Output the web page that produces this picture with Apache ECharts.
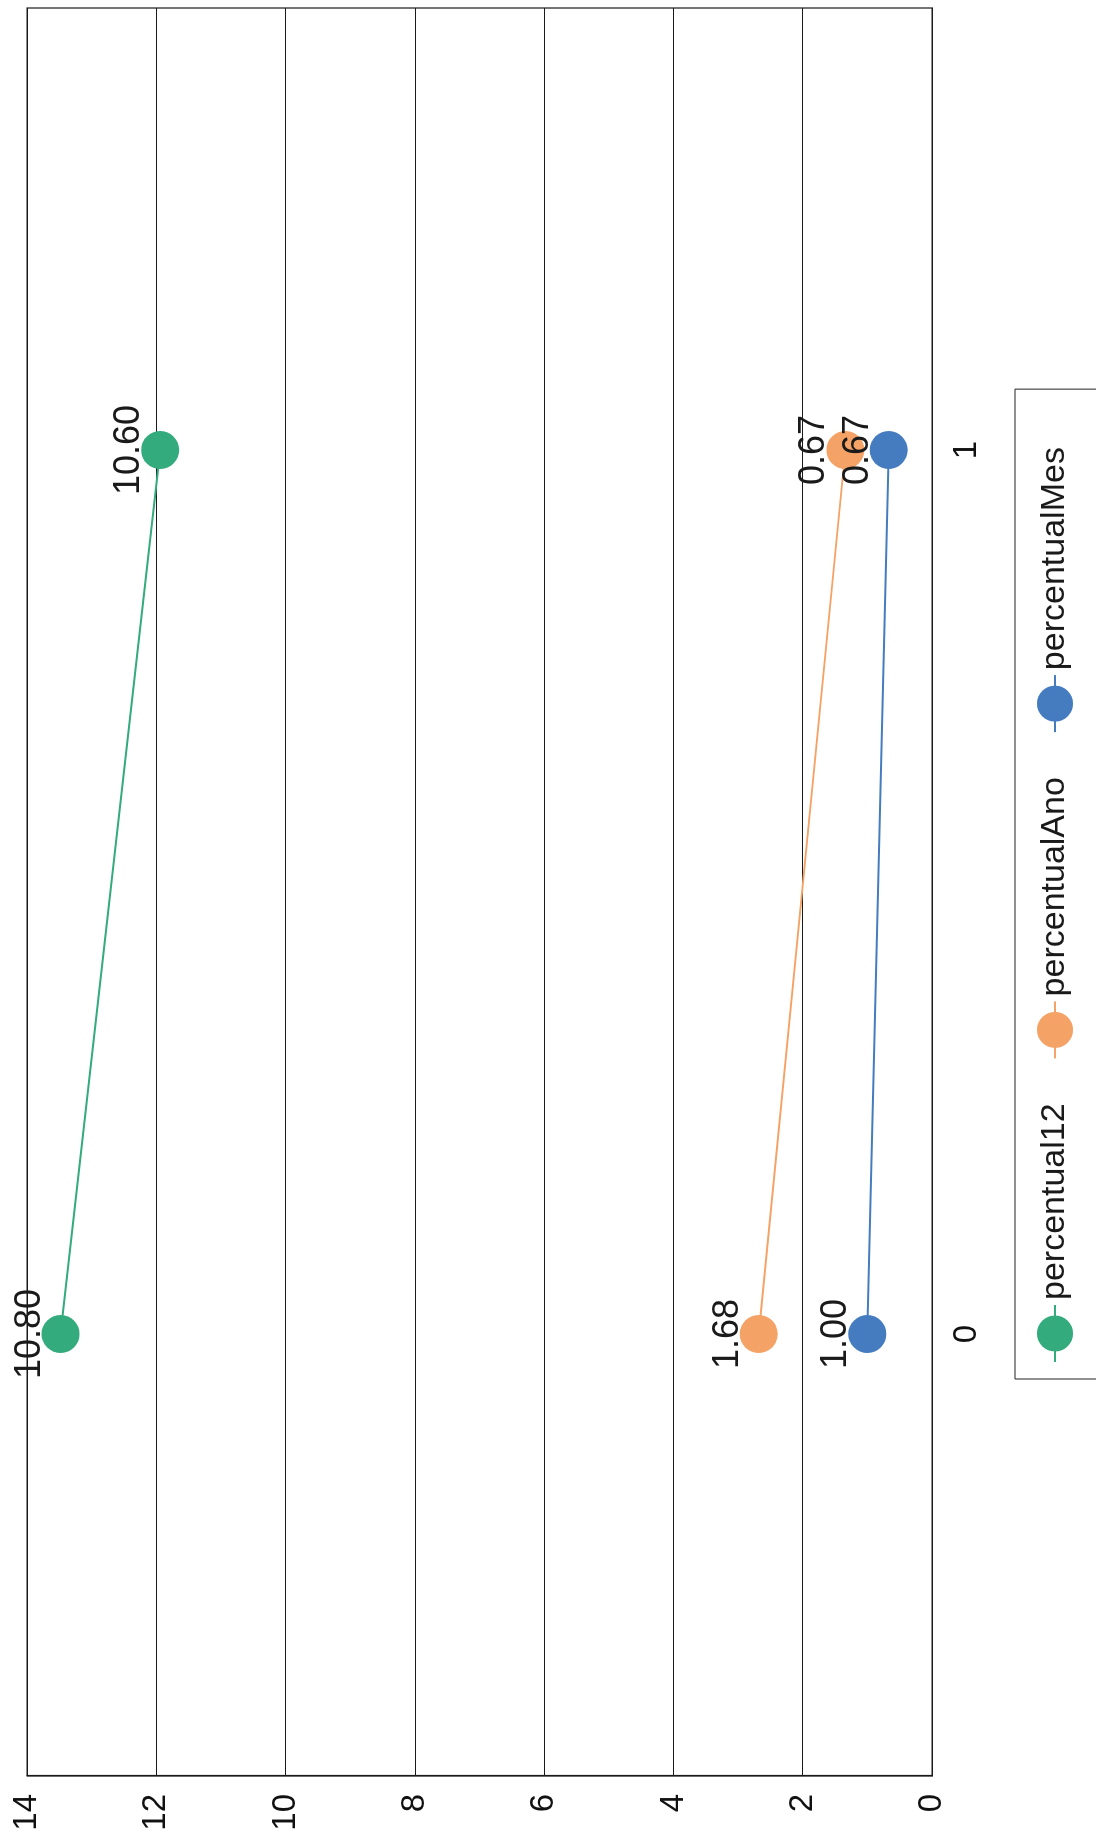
<!DOCTYPE html>
<html><head><meta charset="utf-8">
<script src="https://cdn.jsdelivr.net/npm/echarts@6/dist/echarts.min.js"></script>
<style>
html,body{margin:0;padding:0;background:#fff;overflow:hidden;width:1096px;height:1842px}
#chart{position:absolute;left:0;top:0;width:1842px;height:1096px;transform-origin:0 0;transform:translate(0,1842px) rotate(-90deg);}
</style></head><body><div id="chart"></div>
<script>
const categories = ['0', '1'];
const percentual12 = [10.80, 10.60];
const percentualAno = [1.68, 0.67];
const percentualMes = [1.00, 0.67];
const legendNames = ['percentual12', 'percentualAno', 'percentualMes'];
const valueMin = 0, valueMax = 14, valueInterval = 2;

const FONT = '"Liberation Sans", Arial, Helvetica, sans-serif';
const colors = { percentual12: '#33ab7c', percentualAno: '#f5a266', percentualMes: '#457cbf' };

function mk(name, data) {
  const c = colors[name];
  return {
    name, type: 'line', stack: 'total', data,
    symbol: 'circle', symbolSize: 38,
    itemStyle: { color: c },
    lineStyle: { color: c, width: 2 },
    label: {
      show: true, position: 'top', distance: -6,
      fontSize: 36, color: '#1a1a1a', fontFamily: FONT,
      formatter: p => Number(p.value).toFixed(2)
    }
  };
}

const chart = echarts.init(document.getElementById('chart'), null, { renderer: 'canvas' });
chart.setOption({
  animation: false,
  backgroundColor: '#fff',
  textStyle: { fontFamily: FONT },
  grid: { left: 66, right: 8, top: 27, bottom: 164, show: true, borderColor: '#1a1a1a', borderWidth: 1.2, outerBoundsMode: 'none' },
  legend: {
    data: legendNames, left: 463, top: 1015, orient: 'horizontal',
    itemWidth: 57, itemHeight: 45, itemGap: 44,
    padding: [22, 58, 34, 16],
    borderColor: '#222', borderWidth: 1,
    textStyle: { fontSize: 34, color: '#1a1a1a', fontFamily: FONT }
  },
  xAxis: {
    type: 'category', data: categories, boundaryGap: true,
    axisLine: { show: true, lineStyle: { color: '#1a1a1a', width: 1.2 } },
    axisTick: { show: false },
    axisLabel: { fontSize: 33, color: '#111', margin: 18, fontFamily: FONT },
    splitLine: { show: false }
  },
  yAxis: {
    type: 'value', min: valueMin, max: valueMax, interval: valueInterval,
    axisLine: { show: true, lineStyle: { color: '#1a1a1a', width: 1.2 } },
    axisTick: { show: false },
    axisLabel: { fontSize: 33, color: '#111', margin: 18, fontFamily: FONT },
    splitLine: { show: true, lineStyle: { color: '#1a1a1a', width: 1.2 } }
  },
  series: [mk('percentualMes', percentualMes), mk('percentualAno', percentualAno), mk('percentual12', percentual12)]
});
</script></body></html>
